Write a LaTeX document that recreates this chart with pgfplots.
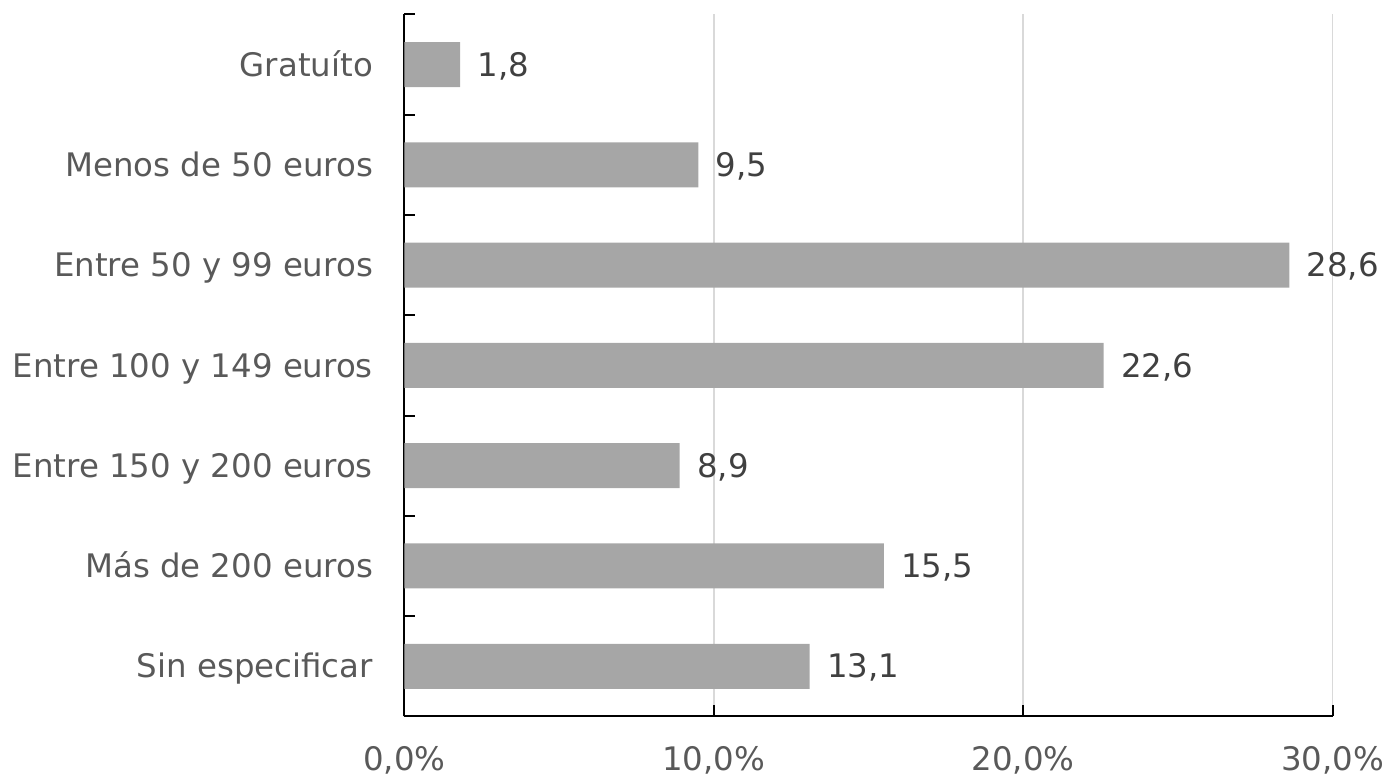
\documentclass[border=0pt]{standalone}
\usepackage{pgfplots}
\pgfplotsset{compat=1.18}
\usepackage{pgfplotstable}
\usepackage{fontspec}
\setmainfont{DejaVu Sans}
\definecolor{barc}{HTML}{A6A6A6}
\definecolor{gridc}{HTML}{D9D9D9}
\definecolor{labc}{HTML}{595959}
\definecolor{valc}{HTML}{404040}
\pgfplotstableread{
x y lab
1.8 6 1,8
9.5 5 9,5
28.6 4 28,6
22.6 3 22,6
8.9 2 8,9
15.5 1 15,5
13.1 0 13,1
}\data
\begin{document}
\begin{tikzpicture}
\begin{axis}[
  at={(0,0)}, anchor=south west,
  scale only axis, width=464.2pt, height=351pt,
  xmin=0, xmax=30, ymin=-0.5, ymax=6.5,
  xbar, bar width=22.5pt, bar shift=0pt,
  clip=false,
  axis x line*=bottom, axis y line*=left,
  axis line style={black, line width=1pt},
  tick align=inside,
  tick style={black, line width=1pt},
  major tick length=5.5pt,
  xtick={0,10,20,30},
  xticklabels={{0,0\%},{10,0\%},{20,0\%},{30,0\%}},
  xticklabel style={anchor=base, inner sep=0pt, yshift=-26.8pt, font=\fontsize{16.2}{19}\selectfont, text=labc},
  xmajorgrids, major grid style={gridc, line width=0.75pt},
  ytick={-0.5,0.5,...,6.5},
  yticklabels={},
  extra y ticks={0,1,2,3,4,5,6},
  extra y tick labels={Sin especificar, Más de 200 euros, Entre 150 y 200 euros, Entre 100 y 149 euros, Entre 50 y 99 euros, Menos de 50 euros, Gratuíto},
  extra y tick style={major tick length=0pt, tick style={draw=none}},
  yticklabel style={anchor=base east, inner sep=0pt, xshift=-15.5pt, yshift=-5.8pt, font=\fontsize{16.2}{19}\selectfont, text=labc},
]
\addplot[fill=barc, draw=none, point meta=explicit symbolic,
  nodes near coords, nodes near coords align=horizontal,
  nodes near coords style={anchor=base west, inner sep=0pt, xshift=8.5pt, yshift=-5.8pt, text=valc, font=\fontsize{16.2}{19}\selectfont}]
  table[x=x, y=y, meta=lab] {\data};
\end{axis}
\pgfresetboundingbox
\path (-202.15pt,-29.8pt) rectangle (493.35pt,358.2pt);
\end{tikzpicture}
\end{document}
